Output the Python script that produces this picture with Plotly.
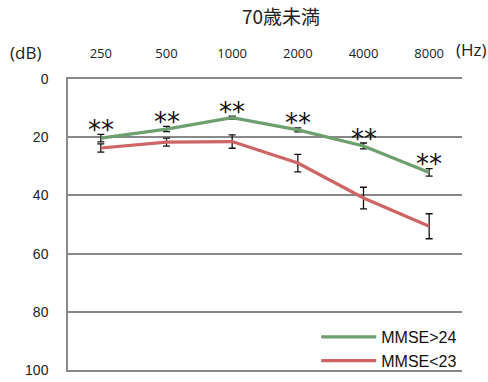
import plotly.graph_objects as go

freqs = ["250", "500", "1000", "2000", "4000", "8000"]
mmse_hi = [20.3, 17.2, 13.3, 17.5, 23.0, 32.1]
mmse_hi_err = [1.3, 0.9, 0.5, 0.7, 1.0, 1.3]
mmse_lo = [23.7, 21.7, 21.5, 28.9, 40.9, 50.6]
mmse_lo_err = [1.4, 1.4, 2.3, 3.0, 3.7, 4.3]
sig_labels = ["**", "**", "**", "**", "**", "**"]
y_ticks = [0, 20, 40, 60, 80, 100]

green = "#6E9F6E"
red = "#CE6464"

fig = go.Figure()
fig.add_trace(go.Scatter(
    x=freqs, y=mmse_hi, mode="lines", name="MMSE>24",
    line=dict(color=green, width=3.2),
    error_y=dict(type="data", array=mmse_hi_err, color="#111111", thickness=1.3, width=3.5),
))
fig.add_trace(go.Scatter(
    x=freqs, y=mmse_lo, mode="lines", name="MMSE<23",
    line=dict(color=red, width=3.2),
    error_y=dict(type="data", array=mmse_lo_err, color="#111111", thickness=1.3, width=3.5),
))

for i, (v, e, s) in enumerate(zip(mmse_hi, mmse_hi_err, sig_labels)):
    fig.add_annotation(x=i, y=v - e, text=s, showarrow=False, yanchor="middle",
                       yshift=4.5, font=dict(size=26, color="#111111", family="DejaVu Sans"))

fig.add_annotation(xref="paper", yref="paper", x=-0.109, y=1.09, text="(dB)", showarrow=False,
                   xanchor="center", yanchor="middle", font=dict(size=17, color="#222222", family="Open Sans"))
fig.add_annotation(xref="paper", yref="paper", x=1.023, y=1.1, text="(Hz)", showarrow=False,
                   xanchor="center", yanchor="middle", font=dict(size=17, color="#222222", family="Open Sans"))

fig.update_layout(
    width=488, height=382,
    margin=dict(l=68, r=26, t=79, b=12, autoexpand=False),
    paper_bgcolor="white", plot_bgcolor="white",
    title=dict(text="70歳未満", x=0.576, xanchor="center", y=0.955, yanchor="middle",
               font=dict(size=19, color="#222222", family="Noto Sans CJK JP")),
    showlegend=True,
    legend=dict(x=0.63, y=0.172, xanchor="left", yanchor="top", bgcolor="rgba(0,0,0,0)",
                traceorder="normal", itemwidth=55,
                font=dict(size=16, color="#111111", family="Liberation Sans")),
    xaxis=dict(side="top", type="category", categoryorder="array", categoryarray=freqs,
               range=[-0.5, len(freqs) - 0.5],
               showgrid=False, showline=True, mirror=True, linecolor="#888888", linewidth=1.5,
               ticks="",
               ticklabelstandoff=14, tickfont=dict(size=13, color="#222222", family="Open Sans")),
    yaxis=dict(range=[100, 0], tickvals=y_ticks, showgrid=True, gridcolor="#888888", gridwidth=1.5,
               showline=True, linecolor="#888888", linewidth=1.5, zeroline=False, ticks="",
               ticklabelstandoff=15, tickfont=dict(size=14, color="#222222", family="Liberation Sans")),
)

fig.write_html("out.html")
